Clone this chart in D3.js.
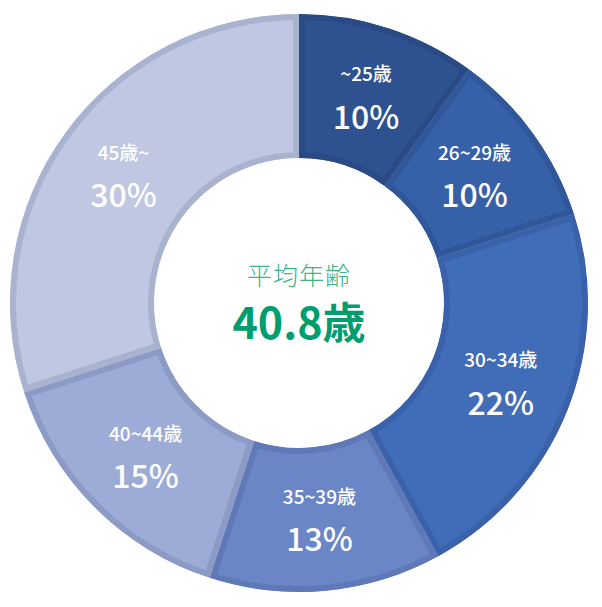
<!DOCTYPE html>
<html><head><meta charset="utf-8">
<script src="https://cdn.jsdelivr.net/npm/d3@7"></script>
<style>body{margin:0;background:#fff;} svg{display:block;}</style>
</head><body>
<svg id="c" width="602" height="607"></svg>
<script>
const categories = ["~25歳", "26~29歳", "30~34歳", "35~39歳", "40~44歳", "45歳~"];
const values = [10, 10, 22, 13, 15, 30];
const fills = ["#2E5190", "#3660A7", "#416CB8", "#6B86C6", "#9DACD6", "#BFC7E2"];
const borders = ["#2A4A86", "#30579A", "#3A62AA", "#5F79B8", "#8C9BC5", "#A9B2CE"];
const centerTitle = "平均年齢";
const centerValue = "40.8歳";

const svg = d3.select("#c");
const cx = 299, cy = 303, rOuter = 289, rInner = 145;
const g = svg.append("g").attr("transform", `translate(${cx},${cy})`);
const pie = d3.pie().sort(null).value(d => d)(values);
const arc = d3.arc().innerRadius(rInner).outerRadius(rOuter);
const defs = svg.append("defs");
pie.forEach((d, i) => {
  defs.append("clipPath").attr("id", "cp" + i).append("path").attr("d", arc(d));
});
const slices = g.selectAll("g.s").data(pie).join("g").attr("class", "s");
slices.append("path").attr("d", arc).attr("fill", (d, i) => fills[i])
  .attr("stroke", (d, i) => borders[i]).attr("stroke-width", 12)
  .attr("clip-path", (d, i) => `url(#cp${i})`);

const font = "'Noto Sans CJK JP', 'Noto Sans', sans-serif";
pie.forEach((d, i) => {
  const [x, y] = arc.centroid(d);
  g.append("text").attr("x", x).attr("y", y - 24).attr("text-anchor", "middle")
    .attr("dominant-baseline", "central").attr("fill", "#fff")
    .attr("font-family", font).attr("font-size", 19).attr("font-weight", 500)
    .text(categories[i]);
  g.append("text").attr("x", x).attr("y", y + 18).attr("text-anchor", "middle")
    .attr("dominant-baseline", "central").attr("fill", "#fff")
    .attr("font-family", font).attr("font-size", 32).attr("font-weight", 500)
    .text(values[i] + "%");
});
g.append("text").attr("x", 0).attr("y", -29).attr("text-anchor", "middle")
  .attr("dominant-baseline", "central").attr("fill", "#3DB38A")
  .attr("font-family", font).attr("font-size", 25).attr("font-weight", 300)
  .attr("letter-spacing", 1).text(centerTitle);
g.append("text").attr("x", 0).attr("y", 17).attr("text-anchor", "middle")
  .attr("dominant-baseline", "central").attr("fill", "#009E6E")
  .attr("font-family", font).attr("font-size", 43).attr("font-weight", 700)
  .text(centerValue);
</script>
</body></html>
